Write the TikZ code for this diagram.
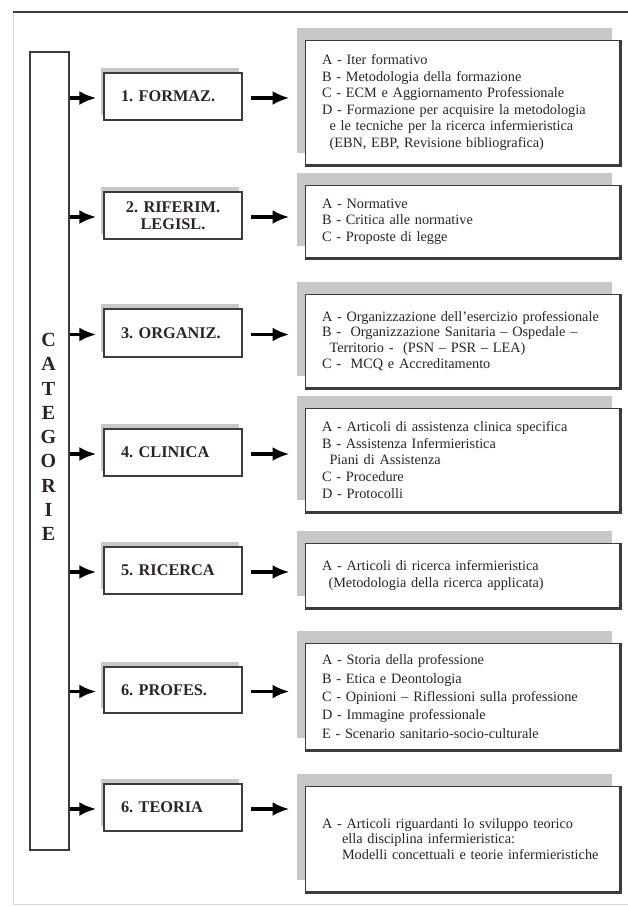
\documentclass[tikz,border=0pt]{standalone}
\usepackage{fontspec}
\setmainfont{Liberation Serif}
\usetikzlibrary{arrows.meta,shadows}
\definecolor{txtcol}{HTML}{2E2226}
\definecolor{edgecol}{HTML}{3C3C3C}
\definecolor{shadecol}{HTML}{C8C8C8}
\definecolor{framecol}{HTML}{D6D6D6}
\tikzset{
  catbox/.style={draw=edgecol, line width=1.3pt, fill=white, rectangle,
    text width=104pt, inner xsep=17pt, minimum height=47pt, align=left,
    text=txtcol, font=\bfseries\fontsize{16.3}{17}\selectfont,
    general shadow={fill=shadecol, shadow xshift=-3.5pt, shadow yshift=5.5pt}},
  contbox/.style={draw=edgecol, line width=1pt, fill=white, rectangle,
    text width=281pt, inner xsep=17pt, inner ysep=0pt, align=left,
    text=txtcol, font=\fontsize{14.3}{16.6}\selectfont,
    general shadow={fill=shadecol, shadow xshift=-8pt, shadow yshift=12pt}},
  tallbox/.style={draw=edgecol, line width=1.2pt, fill=white, rectangle,
    minimum width=39pt, minimum height=798pt, inner sep=0pt},
  arr/.style={-{Latex[length=17pt,width=14pt]}, line width=3.6pt, black},
  thickedge/.style={draw=edgecol, line width=2.4pt}
}
\begin{document}
\frenchspacing
\begin{tikzpicture}[x=1pt,y=-1pt]
\useasboundingbox (0,0) rectangle (628,906);
% frame
\draw[framecol, line width=0.8pt] (13,12) -- (13,905);
\draw[framecol, line width=0.8pt] (13,904) -- (628,904);
\draw[edgecol, line width=1.2pt] (13,12) -- (628,12);

% tall box
\node[tallbox] (tall) at (49.5,451) {};
\node[text=txtcol, align=center, font=\bfseries\fontsize{20}{24.25}\selectfont, inner sep=0pt] (lab) at (48.5,437) {C\\A\\T\\E\\G\\O\\R\\I\\E};

% category boxes
\node[catbox, minimum height=47pt] (c1) at (173,96.5) {1. FORMAZ.};
\node[catbox, minimum height=47pt, align=center] (c2) at (173,215.5) {2. RIFERIM.\\LEGISL.};
\node[catbox, minimum height=48pt] (c3) at (173,333) {3. ORGANIZ.};
\node[catbox, minimum height=47pt] (c4) at (173,452.5) {4. CLINICA};
\node[catbox, minimum height=47pt] (c5) at (173,570.5) {5. RICERCA};
\node[catbox, minimum height=46pt] (c6) at (173,690) {6. PROFES.};
\node[catbox, minimum height=47pt] (c7) at (173,807.5) {6. TEORIA};

% content boxes
\node[contbox, minimum height=125pt] (k1) at (462.5,102.5) {A - Iter formativo\\
B - Metodologia della formazione\\
C - ECM e Aggiornamento Professionale\\
D - Formazione per acquisire la metodologia\\
\hspace*{7.5pt}e le tecniche per la ricerca infermieristica\\
\hspace*{7.5pt}(EBN, EBP, Revisione bibliografica)};
\node[contbox, minimum height=73pt] (k2) at (462.5,221.5) {A - Normative\\
B - Critica alle normative\\
C - Proposte di legge};
\node[contbox, minimum height=94pt, font=\fontsize{14.3}{15.8}\selectfont] (k3) at (462.5,341) {A - Organizzazione dell'esercizio professionale\\
B -\ \ Organizzazione Sanitaria -- Ospedale --\\
\hspace*{7.5pt}Territorio -\ \ (PSN -- PSR -- LEA)\\
C -\ \ MCQ e Accreditamento};
\node[contbox, minimum height=104pt] (k4) at (462.5,460) {A - Articoli di assistenza clinica specifica\\
B - Assistenza Infermieristica\\
\hspace*{7.5pt}Piani di Assistenza\\
C - Procedure\\
D - Protocolli};
\node[contbox, minimum height=65pt] (k5) at (462.5,575.5) {A - Articoli di ricerca infermieristica\\
\hspace*{6.5pt}(Metodologia della ricerca applicata)};
\node[contbox, minimum height=107pt, font=\fontsize{14.3}{18.3}\selectfont] (k6) at (462.5,696.5) {A - Storia della professione\\
B - Etica e Deontologia\\
C - Opinioni -- Riflessioni sulla professione\\
D - Immagine professionale\\
E - Scenario sanitario-socio-culturale};
\node[contbox, minimum height=106pt, font=\fontsize{14.3}{15.8}\selectfont] (k7) at (462.5,839) {A - Articoli riguardanti lo sviluppo teorico\\
\hspace*{20pt}ella disciplina infermieristica:\\
\hspace*{20pt}Modelli concettuali e teorie infermieristiche};

% thicker right/bottom edges of content boxes
\foreach \k in {k1,k2,k3,k4,k5,k6,k7}{
  \draw[thickedge] (\k.north east) -- (\k.south east) -- (\k.south west);
}

% arrows
\foreach \c/\k in {c1/k1,c2/k2,c3/k3,c4/k4,c5/k5,c6/k6,c7/k7}{
  \draw[arr, shorten >=7pt] ([yshift=-1.5pt]tall.east |- \c.west) -- ([yshift=-1.5pt]\c.west);
  \draw[arr, shorten <=8pt, shorten >=15pt] ([yshift=-1.5pt]\c.east) -- ([yshift=-1.5pt]\c.east -| \k.west);
}
\end{tikzpicture}
\end{document}
